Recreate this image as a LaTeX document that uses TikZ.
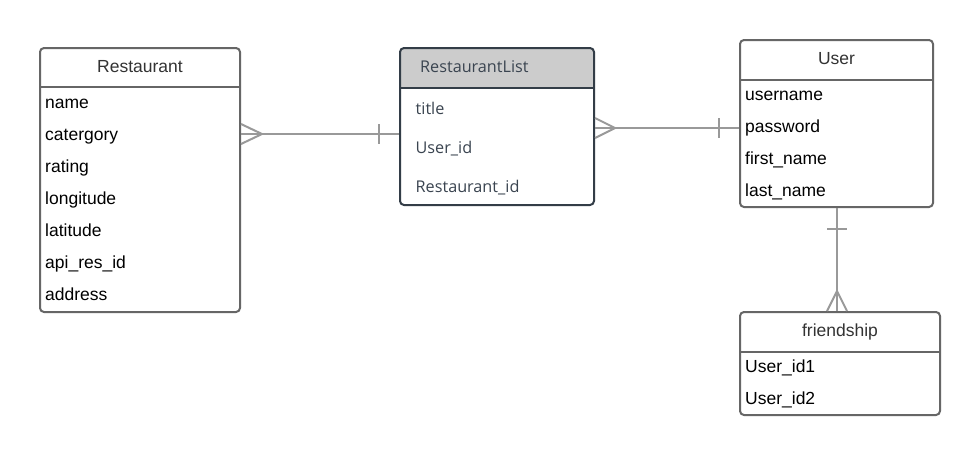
\documentclass[tikz,border=0pt]{standalone}
\usepackage{fontspec}
\setmainfont{Liberation Sans}
\newfontfamily\lsans{Open Sans}
\usetikzlibrary{calc}
\definecolor{bordergray}{HTML}{666666}
\definecolor{slate}{HTML}{333D47}
\definecolor{slatetext}{HTML}{3A4450}
\definecolor{conngray}{HTML}{999999}
\definecolor{hdrgray}{HTML}{CCCCCC}
\begin{document}
\begin{tikzpicture}[x=1pt,y=-1pt,
  tbl/.style={draw=bordergray, line width=2pt, rounded corners=4pt, inner sep=0pt, fill=white},
  tblrl/.style={draw=slate, line width=2pt, rounded corners=4pt, inner sep=0pt, fill=white,
    path picture={\fill[hdrgray] (path picture bounding box.north west) rectangle ($(path picture bounding box.north east)+(0pt,-40pt)$);}},
  hdr/.style={font=\fontsize{17.5}{20}\selectfont, text=black!80, anchor=base, inner sep=0pt},
  fld/.style={font=\fontsize{17.5}{20}\selectfont, text=black, anchor=base west, inner sep=0pt},
  hdrrl/.style={font=\lsans\fontsize{16.2}{19}\selectfont, text=slatetext, anchor=base west, inner sep=0pt},
  fldrl/.style={font=\lsans\fontsize{16.2}{19}\selectfont, text=slatetext, anchor=base west, inner sep=0pt},
  sep/.style={draw=bordergray, line width=2pt},
  seprl/.style={draw=slate, line width=2pt},
  conn/.style={draw=conngray, line width=2pt}]
\useasboundingbox[fill=white] (0,0) rectangle (980,456);

% Restaurant
\node[tbl, minimum width=200pt, minimum height=264pt] (R) at (140,180) {};
\draw[sep] (R.west|-0,87) -- (R.east|-0,87);
\node[hdr] (Rh) at (140,72) {Restaurant};
\node[fld] (R1) at (45,108) {name};
\node[fld] (R2) at (45,140) {catergory};
\node[fld] (R3) at (45,172) {rating};
\node[fld] (R4) at (45,204) {longitude};
\node[fld] (R5) at (45,236) {latitude};
\node[fld] (R6) at (45,268) {api\_res\_id};
\node[fld] (R7) at (45,300) {address};

% RestaurantList
\node[tblrl, minimum width=194pt, minimum height=157pt] (RL) at (497,126.5) {};
\draw[seprl] (RL.west|-0,88) -- (RL.east|-0,88);
\node[hdrrl] (RLh) at (420,72.5) {RestaurantList};
\node[fldrl] (RL1) at (415.5,114.5) {title};
\node[fldrl] (RL2) at (415.5,153.5) {User\_id};
\node[fldrl] (RL3) at (415.5,192.5) {Restaurant\_id};

% User
\node[tbl, minimum width=193pt, minimum height=167pt] (U) at (836.5,123.5) {};
\draw[sep] (U.west|-0,80) -- (U.east|-0,80);
\node[hdr] (Uh) at (836.5,64) {User};
\node[fld] (U1) at (745,100) {username};
\node[fld] (U2) at (745,132) {password};
\node[fld] (U3) at (745,164) {first\_name};
\node[fld] (U4) at (745,196) {last\_name};

% friendship
\node[tbl, minimum width=200pt, minimum height=103pt] (F) at (840,363.5) {};
\draw[sep] (F.west|-0,352) -- (F.east|-0,352);
\node[hdr] (Fh) at (840,336.5) {friendship};
\node[fld] (F1) at (745,372) {User\_id1};
\node[fld] (F2) at (745,404) {User\_id2};

% Connector Restaurant -- RestaurantList
\coordinate (c1a) at (R.east|-0,134);
\coordinate (c1b) at (RL.west|-0,134);
\draw[conn] (c1a) -- (c1b);
\draw[conn] ($(c1a)+(0,-10)$) -- (262,134) -- ($(c1a)+(0,10)$);
\draw[conn] (379,124) -- (379,144);

% Connector RestaurantList -- User
\coordinate (c2a) at (RL.east|-0,128);
\coordinate (c2b) at (U.west|-0,128);
\draw[conn] (c2a) -- (c2b);
\draw[conn] ($(c2a)+(0,-10)$) -- (615,128) -- ($(c2a)+(0,10)$);
\draw[conn] (719,118) -- (719,138);

% Connector User -- friendship
\coordinate (c3a) at (U.south-|837,0);
\coordinate (c3b) at (F.north-|837,0);
\draw[conn] (c3a) -- (c3b);
\draw[conn] (827,229) -- (847,229);
\draw[conn] ($(c3b)+(-10,0)$) -- (837,291) -- ($(c3b)+(10,0)$);
\end{tikzpicture}
\end{document}
